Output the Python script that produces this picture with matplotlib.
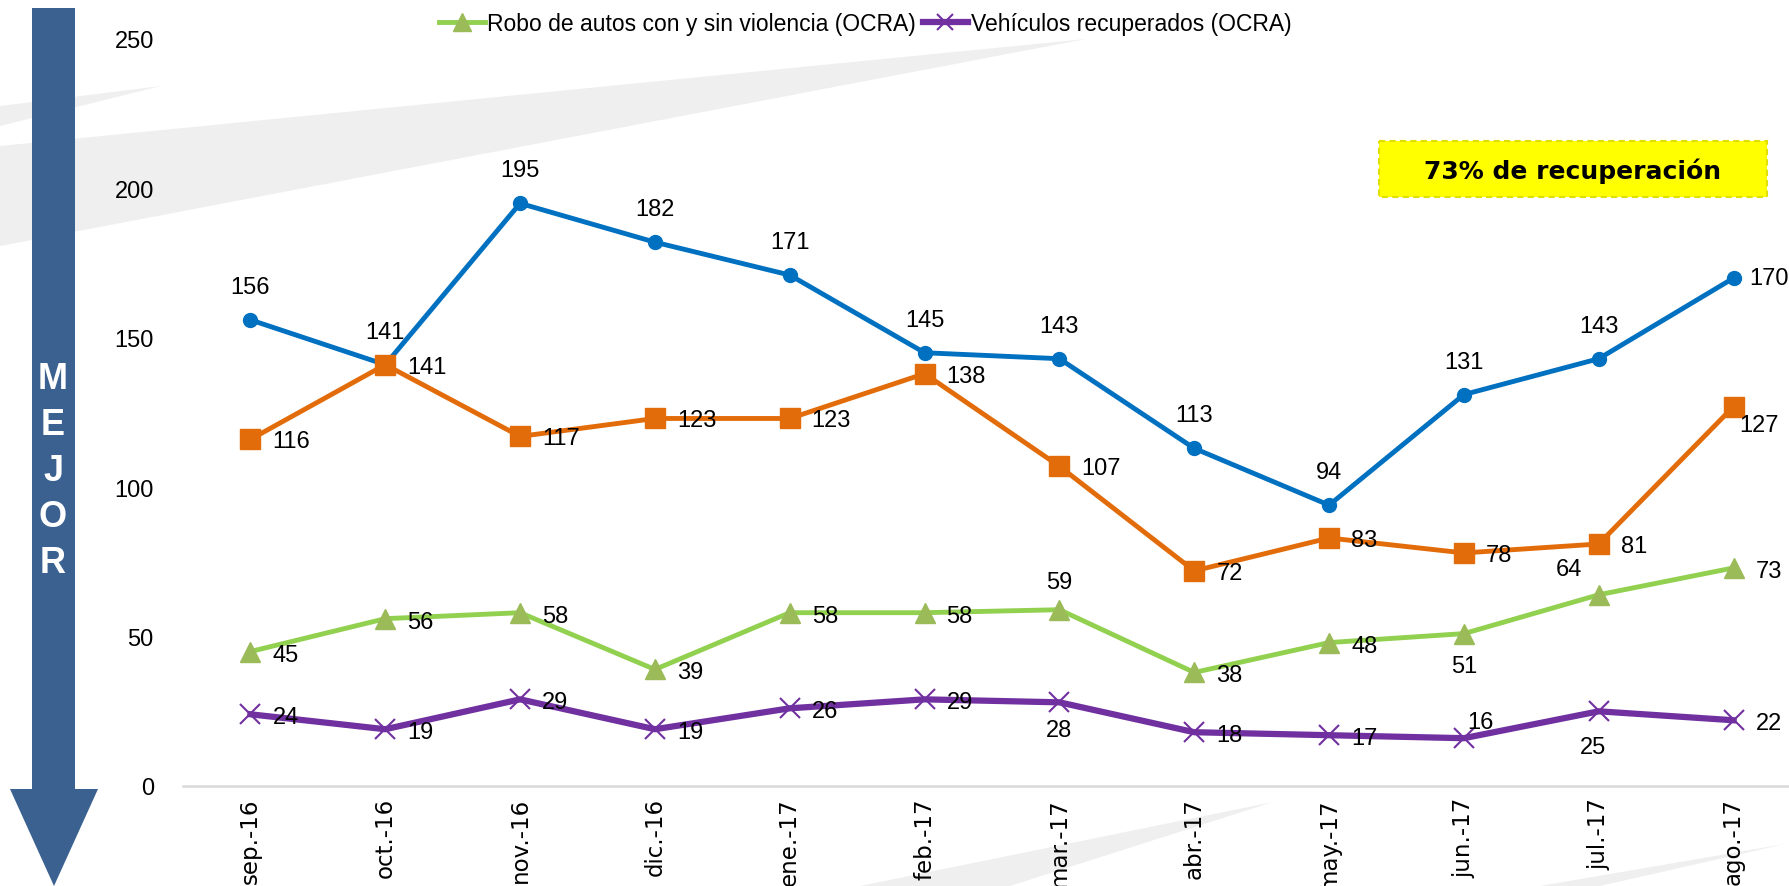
import matplotlib
matplotlib.use("Agg")
import matplotlib.pyplot as plt
from matplotlib.patches import Polygon, Rectangle
from matplotlib.lines import Line2D

# months and series
meses = ["sep.-16", "oct.-16", "nov.-16", "dic.-16", "ene.-17", "feb.-17",
         "mar.-17", "abr.-17", "may.-17", "jun.-17", "jul.-17", "ago.-17"]
serie_azul = [156, 141, 195, 182, 171, 145, 143, 113, 94, 131, 143, 170]
serie_naranja = [116, 141, 117, 123, 123, 138, 107, 72, 83, 78, 81, 127]
robo_autos = [45, 56, 58, 39, 58, 58, 59, 38, 48, 51, 64, 73]
recuperados = [24, 19, 29, 19, 26, 29, 28, 18, 17, 16, 25, 22]

W, H = 1789, 887
fig = plt.figure(figsize=(W / 100, H / 100), dpi=100)

# background layer in pixel coords
bg = fig.add_axes([0, 0, 1, 1], zorder=0)
bg.set_xlim(0, W)
bg.set_ylim(H, 0)
bg.axis("off")

gris = "#EFEFEF"
bg.add_patch(Polygon([(161, 87), (0, 107), (0, 127)], closed=True, color=gris, lw=0))
bg.add_patch(Polygon([(1086, 40), (0, 147), (0, 247)], closed=True, color=gris, lw=0))
bg.add_patch(Polygon([(1273, 803), (860, 887), (1010, 887)], closed=True, color=gris, lw=0))
bg.add_patch(Polygon([(1785, 845), (1540, 887), (1600, 887)], closed=True, color=gris, lw=0))

# big "MEJOR" arrow
azul_flecha = "#3A6190"
bg.add_patch(Polygon([(32, 9), (75, 9), (75, 790), (98, 790), (54, 887),
                      (10, 790), (32, 790)], closed=True, color=azul_flecha, lw=0))
for i, letra in enumerate("MEJOR"):
    bg.text(53, 380 + i * 46, letra, color="white", fontsize=26, fontweight="bold",
            family="Liberation Sans", ha="center", va="center")

# yellow note box
bg.add_patch(Rectangle((1379, 142), 388, 56, facecolor="#FFFF00", edgecolor="#E0E000",
                       lw=1.5, ls=(0, (3, 2))))
bg.text(1573, 171, "73% de recuperación", fontsize=18, fontweight="bold",
        family="DejaVu Sans", ha="center", va="center")

# main chart
ax = fig.add_axes([183 / W, 1 - 787 / H, (1801 - 183) / W, 747 / H], zorder=2)
ax.patch.set_alpha(0)
x = list(range(len(meses)))

ax.plot(x, serie_azul, color="#0070C0", lw=3.5, marker="o", ms=10, zorder=3)
ax.plot(x, serie_naranja, color="#E36C0A", lw=3.5, marker="s", ms=14, zorder=3)
ax.plot(x, robo_autos, color="#92D050", lw=3.5, marker="^", ms=15,
        markerfacecolor="#9BBB59", markeredgecolor="#9BBB59", zorder=3)
ax.plot(x, recuperados, color="#7030A0", lw=4.5, marker="x", ms=14, mew=1.5, zorder=3)

ax.set_xlim(-0.5, 11.5)
ax.set_ylim(0, 250)
ax.set_yticks([0, 50, 100, 150, 200, 250])
ax.set_xticks(x)
ax.set_xticklabels(meses, rotation=90, fontsize=16.5, family="DejaVu Sans")
ax.tick_params(axis="y", length=0, pad=21, labelsize=17)
ax.tick_params(axis="x", length=0, pad=8)
for lab in ax.get_yticklabels():
    lab.set_family("Liberation Sans")
for s in ["top", "right", "left"]:
    ax.spines[s].set_visible(False)
ax.spines["bottom"].set_color("#D9D9D9")
ax.spines["bottom"].set_linewidth(1.8)

fs = 17
fam = "Liberation Sans"


def etiqueta(i, v, dx, dy, ha="center"):
    ax.annotate(str(v), (i, v), xytext=(dx, dy), textcoords="offset pixels",
                ha=ha, va="center", fontsize=fs, family=fam, zorder=4)


for i, v in enumerate(serie_azul):
    if i == 11:
        etiqueta(i, v, 16, 0, ha="left")
    else:
        etiqueta(i, v, 0, 33)

for i, v in enumerate(serie_naranja):
    if i == 11:
        etiqueta(i, v, 25, -18)
    else:
        etiqueta(i, v, 22, -2, ha="left")

for i, v in enumerate(robo_autos):
    if i == 6:
        etiqueta(i, v, 0, 28)
    elif i == 9:
        etiqueta(i, v, 0, -32)
    elif i == 10:
        etiqueta(i, v, -30, 26)
    else:
        etiqueta(i, v, 22, -3, ha="left")

for i, v in enumerate(recuperados):
    if i == 6:
        etiqueta(i, v, 0, -28)
    elif i == 9:
        etiqueta(i, v, 17, 16)
    elif i == 10:
        etiqueta(i, v, -6, -36)
    else:
        etiqueta(i, v, 22, -3, ha="left")

# legend (only two series shown in the original)
handles = [
    Line2D([], [], color="#92D050", lw=3.5, marker="^", ms=13,
           markerfacecolor="#9BBB59", markeredgecolor="#9BBB59"),
    Line2D([], [], color="#7030A0", lw=4.5, marker="x", ms=12, mew=1.5),
]
fig.legend(handles, ["Robo de autos con y sin violencia (OCRA)", "Vehículos recuperados (OCRA)"],
           loc="center", bbox_to_anchor=(865 / W, 1 - 25 / H), ncol=2, frameon=False,
           prop={"family": fam, "size": 16.5}, handlelength=2.0, handletextpad=0.1,
           columnspacing=0.3)

fig.savefig("out.png", dpi=100)
